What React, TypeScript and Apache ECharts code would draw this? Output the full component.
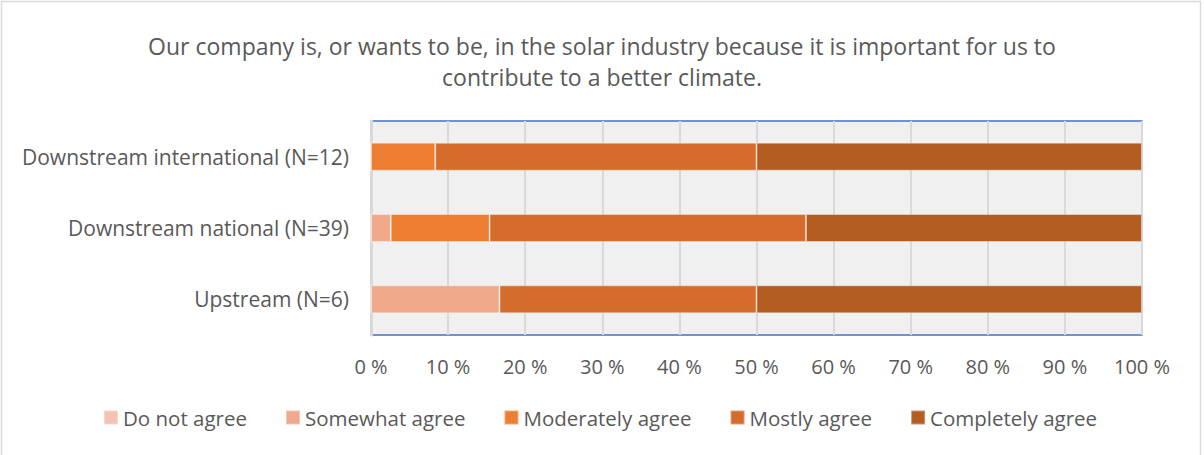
import React, { useEffect, useRef } from "react";
import * as echarts from "echarts";

const categories = ["Upstream (N=6)", "Downstream national (N=39)", "Downstream international (N=12)"];
const seriesNames = ["Do not agree", "Somewhat agree", "Moderately agree", "Mostly agree", "Completely agree"];
const doNotAgree = [0, 0, 0];
const somewhatAgree = [16.67, 2.56, 0];
const moderatelyAgree = [0, 12.82, 8.33];
const mostlyAgree = [33.33, 41.03, 41.67];
const completelyAgree = [50, 43.59, 50];
const colors = ["#F4C3B2", "#F0A98A", "#ED7D31", "#D46C2B", "#B45D22"];
const xTicks = [0, 10, 20, 30, 40, 50, 60, 70, 80, 90, 100];
const titleText = "Our company is, or wants to be, in the solar industry because it is important for us to\ncontribute to a better climate.";

const FONT = "'Open Sans', sans-serif";

export default function App() {
  const ref = useRef<HTMLDivElement>(null);
  useEffect(() => {
    document.body.style.margin = "0";
    const chart = echarts.init(ref.current!, null, { renderer: "svg" });
    const values = [doNotAgree, somewhatAgree, moderatelyAgree, mostlyAgree, completelyAgree];
    chart.setOption({
      animation: false,
      backgroundColor: "#ffffff",
      textStyle: { fontFamily: FONT },
      title: {
        text: titleText,
        left: "center",
        top: 25,
        textStyle: { fontFamily: FONT, fontSize: 23, fontWeight: "normal", color: "#595959", lineHeight: 31 },
      },
      graphic: [
        {
          type: "rect",
          shape: { x: 1.5, y: 1.5, width: 1199, height: 470 },
          style: { fill: "none", stroke: "#D9D9D9", lineWidth: 1.5 },
          silent: true,
        },
      ],
      legend: {
        data: seriesNames,
        bottom: 22,
        left: 98,
        itemWidth: 14,
        itemHeight: 14,
        itemGap: 38,
        icon: "rect",
        textStyle: { fontFamily: FONT, fontSize: 20.5, color: "#595959" },
      },
      grid: {
        left: 371,
        right: 62,
        top: 121,
        bottom: 120,
        show: true,
        backgroundColor: "#F0F0F0",
        borderColor: "#4472C4",
        borderWidth: 1.5,
      },
      xAxis: {
        type: "value",
        min: 0,
        max: 100,
        interval: 10,
        axisLine: { show: false },
        axisTick: { show: false },
        splitLine: { show: true, lineStyle: { color: "#D9D9D9", width: 2 } },
        axisLabel: {
          fontFamily: FONT,
          fontSize: 20,
          color: "#595959",
          margin: 21,
          formatter: (v: number) => (xTicks.includes(v) ? `${v} %` : ""),
        },
      },
      yAxis: {
        type: "category",
        data: categories,
        axisLine: { show: true, lineStyle: { color: "#D9D9D9", width: 3 } },
        axisTick: { show: false },
        axisLabel: { fontFamily: FONT, fontSize: 21, color: "#595959", margin: 22 },
      },
      series: seriesNames.map((name, i) => ({
        name,
        type: "bar",
        stack: "total",
        barWidth: 28,
        data: values[i],
        itemStyle: { color: colors[i], borderColor: "rgba(255,255,255,0.35)", borderWidth: 1 },
      })),
    });
    return () => chart.dispose();
  }, []);
  return <div ref={ref} style={{ width: 1204, height: 455 }} />;
}
